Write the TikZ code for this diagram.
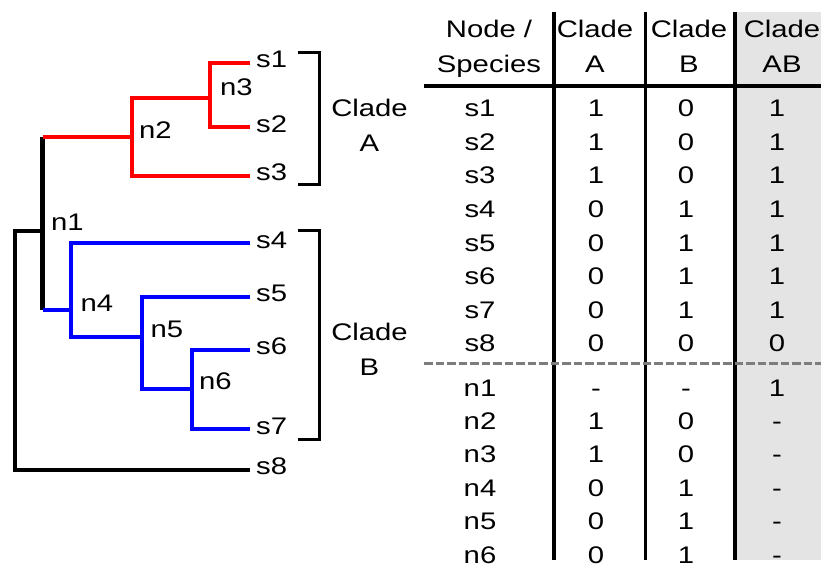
\documentclass[tikz,border=0pt]{standalone}
\usepackage{fontspec}
\setmainfont[FakeStretch=1.22]{Liberation Sans}
\definecolor{cladered}{RGB}{255,0,0}
\definecolor{cladeblue}{RGB}{0,0,255}
\definecolor{cellgray}{RGB}{228,228,228}
\definecolor{dashgray}{RGB}{125,125,125}
\tikzset{
  branch/.style={line width=4.3pt, line cap=butt, line join=miter},
  bracket/.style={line width=3pt, line join=miter},
  lbl/.style={inner sep=0pt, font=\fontsize{24}{24}\selectfont},
  rule/.style={line width=3.2pt},
}
\begin{document}
\begin{tikzpicture}[x=1pt,y=-1pt]
\useasboundingbox (0,0) rectangle (821,566);
% ---------- table background ----------
\fill[cellgray] (736.5,11.7) rectangle (821,560);
% ---------- tree coordinates ----------
\coordinate (r)  at (15,230.7);
\coordinate (n1) at (42.5,230.7);
\coordinate (n2) at (132,137.3);
\coordinate (n3) at (210,97.7);
\coordinate (n4) at (71,310);
\coordinate (n5) at (141.7,336.7);
\coordinate (n6) at (192.3,389.3);
\coordinate (e1) at (250,62.7);
\coordinate (e2) at (250,127.3);
\coordinate (e3) at (250,175.7);
\coordinate (e4) at (250,243.3);
\coordinate (e5) at (250,296.7);
\coordinate (e6) at (250,350);
\coordinate (e7) at (250,429.3);
\coordinate (e8) at (250,470);
% ---------- branches ----------
\draw[branch,black] (n1|-n2) -- (n1) -- (n1|-n4);
\draw[branch,black] (n1) -- (r) |- (e8);
\draw[branch,cladered] (n1|-n2) -- (n2);
\draw[branch,cladered] (n3) -| (n2) |- (e3);
\draw[branch,cladered] (e1) -| (n3) |- (e2);
\draw[branch,cladeblue] (n1|-n4) -- (n4);
\draw[branch,cladeblue] (e4) -| (n4) |- (n5);
\draw[branch,cladeblue] (e5) -| (n5) |- (n6);
\draw[branch,cladeblue] (e6) -| (n6) |- (e7);
% ---------- leaf labels ----------
\node[lbl,anchor=base west] (s1) at (256,67.3) {s1};
\node[lbl,anchor=base west] (s2) at (256,132) {s2};
\node[lbl,anchor=base west] (s3) at (256,180.3) {s3};
\node[lbl,anchor=base west] (s4) at (256,248) {s4};
\node[lbl,anchor=base west] (s5) at (256,301.3) {s5};
\node[lbl,anchor=base west] (s6) at (256,354.6) {s6};
\node[lbl,anchor=base west] (s7) at (256,434) {s7};
\node[lbl,anchor=base west] (s8) at (256,474.6) {s8};
% ---------- internal node labels ----------
\node[lbl,anchor=base west] (ln1) at (51,230) {n1};
\node[lbl,anchor=base west] (ln2) at (139,138.3) {n2};
\node[lbl,anchor=base west] (ln3) at (220,95.7) {n3};
\node[lbl,anchor=base west] (ln4) at (80.5,311.7) {n4};
\node[lbl,anchor=base west] (ln5) at (150.5,337.3) {n5};
\node[lbl,anchor=base west] (ln6) at (199,389) {n6};
% ---------- brackets ----------
\draw[bracket] (297.7,52.7) -- (319.3,52.7) -- (319.3,184.3) -- (297.7,184.3);
\draw[bracket] (297.7,230) -- (319.3,230) -- (319.3,439) -- (297.7,439);
\node[lbl,anchor=base] (cA1) at (369.5,116.7) {Clade};
\node[lbl,anchor=base] (cA2) at (369.5,151.7) {A};
\node[lbl,anchor=base] (cB1) at (369.5,340.7) {Clade};
\node[lbl,anchor=base] (cB2) at (369.5,375) {B};
% ---------- table lines ----------
\draw[rule] (554,11.7) -- (554,560);
\draw[rule] (645.7,11.7) -- (645.7,560);
\draw[rule] (735,11.7) -- (735,560);
\draw[rule] (424,86) -- (821,86);
\draw[line width=3pt,dashgray,dash pattern=on 8.5pt off 3pt] (424,363.3) -- (821,363.3);
% ---------- table header ----------
\node[lbl,anchor=base] (h0a) at (489,37) {Node /};
\node[lbl,anchor=base] (h0b) at (489,72) {Species};
\node[lbl,anchor=base] (hAa) at (595,37) {Clade};
\node[lbl,anchor=base] (hAb) at (595,72) {A};
\node[lbl,anchor=base] (hBa) at (689,37) {Clade};
\node[lbl,anchor=base] (hBb) at (689,72) {B};
\node[lbl,anchor=base] (hCa) at (782,37) {Clade};
\node[lbl,anchor=base] (hCb) at (782,72) {AB};
% ---------- table rows ----------
\foreach \name/\a/\b/\c [count=\i] in {s1/1/0/1,s2/1/0/1,s3/1/0/1,s4/0/1/1,s5/0/1/1,s6/0/1/1,s7/0/1/1,s8/0/0/0}{
  \pgfmathsetmacro{\yb}{116.7+33.6*(\i-1)}
  \node[lbl,anchor=base] (r\i n) at (480,\yb) {\name};
  \node[lbl,anchor=base] (r\i a) at (596,\yb) {\a};
  \node[lbl,anchor=base] (r\i b) at (686,\yb) {\b};
  \node[lbl,anchor=base] (r\i c) at (777,\yb) {\c};
}
\foreach \name/\a/\b/\c [count=\i] in {n1/-/-/1,n2/1/0/-,n3/1/0/-,n4/0/1/-,n5/0/1/-,n6/0/1/-}{
  \pgfmathsetmacro{\yb}{396+33.4*(\i-1)}
  \node[lbl,anchor=base] (q\i n) at (480,\yb) {\name};
  \node[lbl,anchor=base] (q\i a) at (596,\yb) {\a};
  \node[lbl,anchor=base] (q\i b) at (686,\yb) {\b};
  \node[lbl,anchor=base] (q\i c) at (777,\yb) {\c};
}
\end{tikzpicture}
\end{document}
